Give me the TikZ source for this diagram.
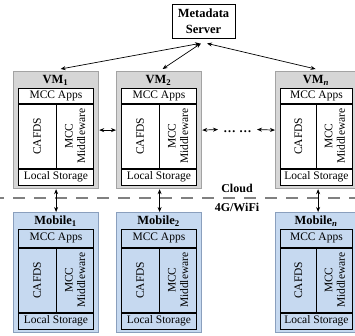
\documentclass[tikz,border=0pt]{standalone}
\usepackage{fontspec}
\setmainfont{Liberation Serif}
\usetikzlibrary{arrows.meta,calc}

\definecolor{vmfill}{HTML}{D6D6D6}
\definecolor{vmedge}{HTML}{A3A3A3}
\definecolor{mobfill}{HTML}{C6D9F0}
\definecolor{mobedge}{HTML}{8A9FBD}
\definecolor{netline}{HTML}{808080}

\newcommand\lblfont{\fontsize{11.5}{12.5}\selectfont}
\newcommand\hdfont{\fontsize{12.5}{16}\selectfont\bfseries}

\tikzset{
  shell/.style={draw, line width=1.2pt, inner sep=0pt, anchor=north west},
  vmshell/.style={shell, draw=vmedge, fill=vmfill},
  mobshell/.style={shell, draw=mobedge, fill=mobfill},
  cell/.style={draw=black, line width=0.8pt, inner sep=0pt, anchor=north west, font=\lblfont},
  lbl/.style={inner sep=0pt, font=\lblfont},
  title/.style={inner sep=0pt, font=\hdfont},
  server/.style={draw=black, fill=white, line width=0.8pt, inner sep=0pt,
    minimum width=63pt, minimum height=34pt, align=center, font=\hdfont},
  biarrow/.style={{Stealth[length=5pt,width=4pt]}-{Stealth[length=5pt,width=4pt]}, line width=0.7pt},
  netdash/.style={draw=netline, line width=1.3pt, dash pattern=on 12pt off 9pt, dash phase=8pt},
}

% #1 name, #2 left, #3 top, #4 outer width, #5 shell style,
% #6 cell fill, #7 title, #8 height of the apps row
\newcommand\machine[8]{%
  \pgfmathsetmacro\innerw{#4-10}%
  \pgfmathsetmacro\halfw{(#4-10)/2}%
  \pgfmathsetmacro\outerh{102+#8}%
  \node[#5, minimum width=#4pt, minimum height=\outerh pt] (#1) at (#2,#3) {};
  \node[title] (#1-title) at ($(#2,#3)+(#4/2,9.5)$) {#7};
  \node[cell, fill=#6, minimum width=\innerw pt, minimum height=#8 pt] (#1-apps) at ($(#2,#3)+(5,17)$) {MCC Apps};
  \node[cell, fill=#6, minimum width=\halfw pt, minimum height=64pt] (#1-fs) at (#1-apps.south west) {};
  \node[cell, fill=#6, minimum width=\halfw pt, minimum height=64pt] (#1-mw) at (#1-apps.south) {};
  \node[cell, fill=#6, minimum width=\innerw pt, minimum height=16pt] (#1-ls) at (#1-fs.south west) {Local Storage};
  \node[lbl, rotate=90] (#1-fsl) at (#1-fs.center) {CAFDS};
  \node[lbl, rotate=90, align=center] (#1-mwl) at (#1-mw.center) {MCC\\Middleware};
}

\begin{document}
\begin{tikzpicture}[x=1pt, y=-1pt]
  \clip (0,0) rectangle (355,335);
  \fill[white] (0,0) rectangle (355,335);

  % network boundary between cloud and devices
  \coordinate (netL) at (0,198);
  \coordinate (netR) at (355,198);
  \draw[netdash] (netL) -- (netR);
  \node[title, font=\fontsize{12}{14}\selectfont\bfseries] (cloud) at (237,188) {Cloud};
  \node[title, font=\fontsize{12}{14}\selectfont\bfseries] (wifi) at (237,207.5) {4G/WiFi};

  % metadata server
  \node[server] (srv) at (203.5,21) {Metadata\\Server};

  % cloud virtual machines
  \machine{vm1}{13}{71}{85}{vmshell}{white}{VM\textsubscript{1}}{15}
  \machine{vm2}{116}{71}{85}{vmshell}{white}{VM\textsubscript{2}}{15}
  \machine{vmn}{275}{71}{82}{vmshell}{white}{VM\textsubscript{\textit{n}}}{15}

  % mobile devices
  \machine{mob1}{13}{212}{85}{mobshell}{mobfill}{Mobile\textsubscript{1}}{18}
  \machine{mob2}{116}{212}{85}{mobshell}{mobfill}{Mobile\textsubscript{2}}{18}
  \machine{mobn}{275}{212}{82}{mobshell}{mobfill}{Mobile\textsubscript{\textit{n}}}{18}

  % server to VMs
  \draw[biarrow] ([xshift=-3.5pt,yshift=-5pt]srv.south) -- ([xshift=4.5pt,yshift=2pt]vm1.north);
  \draw[biarrow] ([xshift=-2.5pt,yshift=-5pt]srv.south) -- ([xshift=3.5pt,yshift=2pt]vm2.north);
  \draw[biarrow] ([xshift=3.5pt,yshift=-5pt]srv.south) -- ([xshift=-1pt,yshift=2pt]vmn.north);

  % VM to VM
  \coordinate (dotsL) at (218,129.5);
  \coordinate (dotsR) at (257,129.5);
  \node[inner sep=0pt, font=\fontsize{12.5}{14}\selectfont\bfseries] (dots) at (237.5,132) {… …};
  \draw[biarrow] (vm1.east) -- (vm2.west);
  \draw[biarrow] (vm2.east) -- (dotsL);
  \draw[biarrow] (dotsR) -- (vmn.west);

  % VM to mobile
  \draw[biarrow] (vm1.south) -- (mob1.north);
  \draw[biarrow] ([xshift=0.5pt]vm2.south) -- ([xshift=0.5pt]mob2.north);
  \draw[biarrow] ([xshift=1.5pt]vmn.south) -- ([xshift=1.5pt]mobn.north);
\end{tikzpicture}
\end{document}
